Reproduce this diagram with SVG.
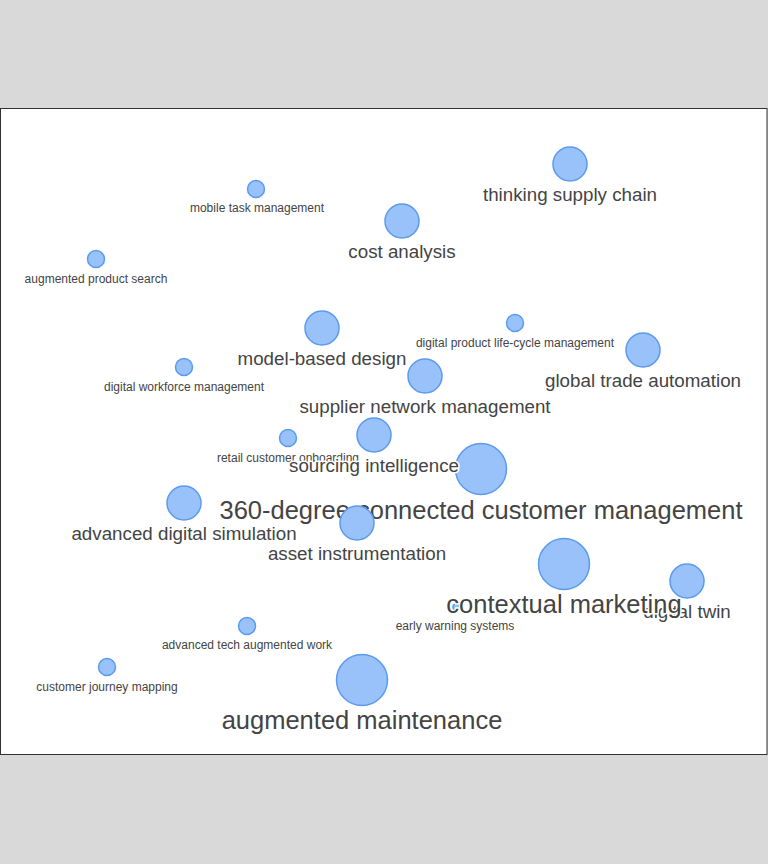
<svg xmlns="http://www.w3.org/2000/svg" width="768" height="864" viewBox="0 0 768 864">
<style>
.b{fill:#99c1fa;stroke:#5b9bef;stroke-width:1.5}
.t{font-family:"Liberation Sans",Arial,sans-serif;fill:#444;text-anchor:middle;stroke:#fff;stroke-width:3;paint-order:stroke;stroke-linejoin:round}
.s{font-size:12px}
.m{font-size:18.75px}
.l{font-size:25.5px}
</style>
<rect x="0" y="0" width="768" height="864" fill="#d9d9d9"/>
<rect x="0.5" y="108.5" width="766.5" height="646" fill="#fff" stroke="#333" stroke-width="1"/>
<g id="connectors"></g>
<g id="n-thinking-supply-chain"><circle class="b" cx="570" cy="164" r="17"/><text class="t m" x="570" y="201">thinking supply chain</text></g>
<g id="n-cost-analysis"><circle class="b" cx="402" cy="221" r="17"/><text class="t m" x="402" y="258">cost analysis</text></g>
<g id="n-mobile-task-management"><circle class="b" cx="256" cy="189" r="8.5"/><text class="t s" x="257" y="212">mobile task management</text></g>
<g id="n-augmented-product-search"><circle class="b" cx="96" cy="259" r="8.5"/><text class="t s" x="96" y="283">augmented product search</text></g>
<g id="n-model-based-design"><circle class="b" cx="322" cy="328" r="17"/><text class="t m" x="322" y="365">model-based design</text></g>
<g id="n-digital-product-life-cycle-management"><circle class="b" cx="515" cy="323" r="8.5"/><text class="t s" x="515" y="347">digital product life-cycle management</text></g>
<g id="n-global-trade-automation"><circle class="b" cx="643" cy="350" r="17"/><text class="t m" x="643" y="387">global trade automation</text></g>
<g id="n-digital-workforce-management"><circle class="b" cx="184" cy="367" r="8.5"/><text class="t s" x="184" y="391">digital workforce management</text></g>
<g id="n-supplier-network-management"><circle class="b" cx="425" cy="376" r="17"/><text class="t m" x="425" y="413">supplier network management</text></g>
<g id="n-retail-customer-onboarding"><circle class="b" cx="288" cy="438" r="8.5"/><text class="t s" x="288" y="462">retail customer onboarding</text></g>
<g id="n-360-degree-connected-customer-management"><circle class="b" cx="481" cy="469" r="25.5"/><text class="t l" x="481" y="519">360-degree connected customer management</text></g>
<g id="n-sourcing-intelligence"><circle class="b" cx="374" cy="435" r="17"/><text class="t m" x="374" y="472">sourcing intelligence</text></g>
<g id="n-advanced-digital-simulation"><circle class="b" cx="184" cy="503" r="17"/><text class="t m" x="184" y="540">advanced digital simulation</text></g>
<g id="n-asset-instrumentation"><circle class="b" cx="357" cy="523" r="17"/><text class="t m" x="357" y="560">asset instrumentation</text></g>
<g id="n-digital-twin"><circle class="b" cx="687" cy="581" r="17"/><text class="t m" x="687" y="618">digital twin</text></g>
<g id="n-early-warning-systems"><circle class="b" cx="456" cy="607" r="3"/><text class="t s" x="455" y="630">early warning systems</text></g>
<g id="n-contextual-marketing"><circle class="b" cx="564" cy="564" r="25.5"/><text class="t l" x="564" y="613">contextual marketing</text></g>
<g id="n-advanced-tech-augmented-work"><circle class="b" cx="247" cy="626" r="8.5"/><text class="t s" x="247" y="649">advanced tech augmented work</text></g>
<g id="n-customer-journey-mapping"><circle class="b" cx="107" cy="667" r="8.5"/><text class="t s" x="107" y="691">customer journey mapping</text></g>
<g id="n-augmented-maintenance"><circle class="b" cx="362" cy="680" r="25.5"/><text class="t l" x="362" y="729">augmented maintenance</text></g>
</svg>
